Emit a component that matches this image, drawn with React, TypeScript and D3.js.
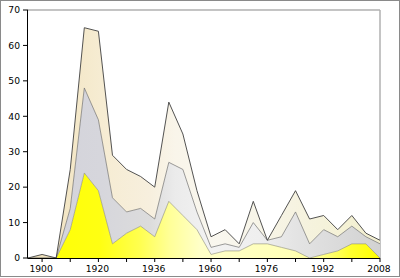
import React from "react";
import * as d3 from "d3";

const years = [1896, 1900, 1904, 1908, 1912, 1920, 1924, 1928, 1932, 1936, 1948, 1952, 1956, 1960, 1964, 1968, 1972, 1976, 1980, 1984, 1988, 1992, 1996, 2000, 2004, 2008];
const gold = [0, 0, 0, 8, 24, 19, 4, 7, 9, 6, 16, 12, 8, 1, 2, 2, 4, 4, 3, 2, 0, 1, 2, 4, 4, 0];
const silver = [0, 0, 0, 6, 24, 20, 13, 6, 5, 5, 11, 13, 5, 2, 2, 1, 6, 1, 3, 11, 4, 7, 4, 5, 2, 4];
const bronze = [0, 1, 0, 11, 17, 25, 12, 12, 9, 9, 17, 10, 6, 3, 4, 1, 6, 0, 6, 6, 7, 4, 2, 3, 1, 1];
const yTicks = [0, 10, 20, 30, 40, 50, 60, 70];

const W = 400, H = 278;
const L = 28, R = 380, T = 10, B = 258;

export default function App() {
  const x = d3.scalePoint<number>().domain(years).range([L, R]);
  const y = d3.scaleLinear().domain([0, 70]).range([B, T]);
  const rows = years.map((yr, i) => ({ year: yr, gold: gold[i], silver: silver[i], bronze: bronze[i] }));
  const stack = d3.stack<any>().keys(["gold", "silver", "bronze"]);
  const series = stack(rows);
  const area = d3.area<any>()
    .x((d) => x(d.data.year) as number)
    .y0((d) => y(d[0]))
    .y1((d) => y(d[1]));
  const line = d3.line<any>()
    .x((d) => x(d.data.year) as number)
    .y((d) => y(d[1]));

  const off = (px: number) => (px - L) / (R - L);
  const grads: Record<string, [number, string][]> = {
    gGold: [[28, "#ffff00"], [100, "#ffff12"], [140, "#ffff50"], [170, "#ffff98"], [200, "#ffffc8"], [290, "#ffffb8"], [320, "#ffff90"], [350, "#ffff30"], [380, "#ffff00"]],
    gSilver: [[28, "#d2d2da"], [100, "#d6d6dc"], [150, "#dcdcdc"], [175, "#ebebeb"], [210, "#f2f2f2"], [260, "#efefef"], [295, "#e4e4e4"], [340, "#dadada"], [380, "#d2d2d2"]],
    gBronze: [[28, "#f0e0b8"], [100, "#f6ecd2"], [150, "#f7efde"], [175, "#f9f5ea"], [220, "#f9f7ef"], [290, "#f6f3e2"], [350, "#f4f1d4"], [380, "#f2eed0"]],
  };
  const fills = ["url(#gGold)", "url(#gSilver)", "url(#gBronze)"];
  const strokes = ["#8c8c70", "#707070", "#404040"];
  const strokeW = [0.6, 0.7, 0.9];

  const tickYears = years.filter((_, i) => i % 2 === 1);
  const labelYears = years.filter((_, i) => i % 4 === 1);
  const font = "'DejaVu Sans', sans-serif";

  return (
    <svg width={W} height={H} style={{ position: "fixed", left: 0, top: 0, background: "#fff" }}>
      <defs>
        {Object.entries(grads).map(([id, stops]) => (
          <linearGradient key={id} id={id} gradientUnits="userSpaceOnUse" x1={L} y1={0} x2={R} y2={0}>
            {stops.map(([px, c], i) => (
              <stop key={i} offset={off(px)} stopColor={c} />
            ))}
          </linearGradient>
        ))}
      </defs>
      <rect x={0.5} y={0.5} width={W - 1} height={H - 2} fill="#fff" stroke="#8a8a8a" />
      {/* frame */}
      <line x1={L} x2={R} y1={T} y2={T} stroke="#b0b0b0" strokeWidth={1.5} />
      <line x1={R} x2={R} y1={T} y2={B} stroke="#b0b0b0" strokeWidth={1.5} />
      {series.map((s, i) => (
        <path key={"a" + i} d={area(s) as string} fill={fills[i]} />
      ))}
      {series.map((s, i) => (
        <path key={"l" + i} d={line(s) as string} fill="none" stroke={strokes[i]} strokeWidth={strokeW[i]} strokeLinejoin="round" />
      ))}
      {/* y axis */}
      <line x1={L - 0.5} x2={L - 0.5} y1={T} y2={B} stroke="#000" strokeWidth={1} />
      {yTicks.map((t) => (
        <g key={t}>
          <line x1={L - 5} x2={L} y1={y(t)} y2={y(t)} stroke="#000" strokeWidth={1} />
          <text x={L - 8} y={y(t)} dy="0.35em" textAnchor="end" fontFamily={font} fontSize={9.2} fill="#000">{t}</text>
        </g>
      ))}
      {/* x axis */}
      <line x1={L - 0.5} x2={R} y1={B + 0.5} y2={B + 0.5} stroke="#000" strokeWidth={1} />
      {tickYears.map((yr) => (
        <line key={yr} x1={x(yr)} x2={x(yr)} y1={B} y2={B + 4} stroke="#000" strokeWidth={1} />
      ))}
      {labelYears.map((yr) => (
        <text key={yr} x={(x(yr) as number) - 1} y={271.5} textAnchor="middle" fontFamily={font} fontSize={9.2} fill="#000">{yr}</text>
      ))}
    </svg>
  );
}
